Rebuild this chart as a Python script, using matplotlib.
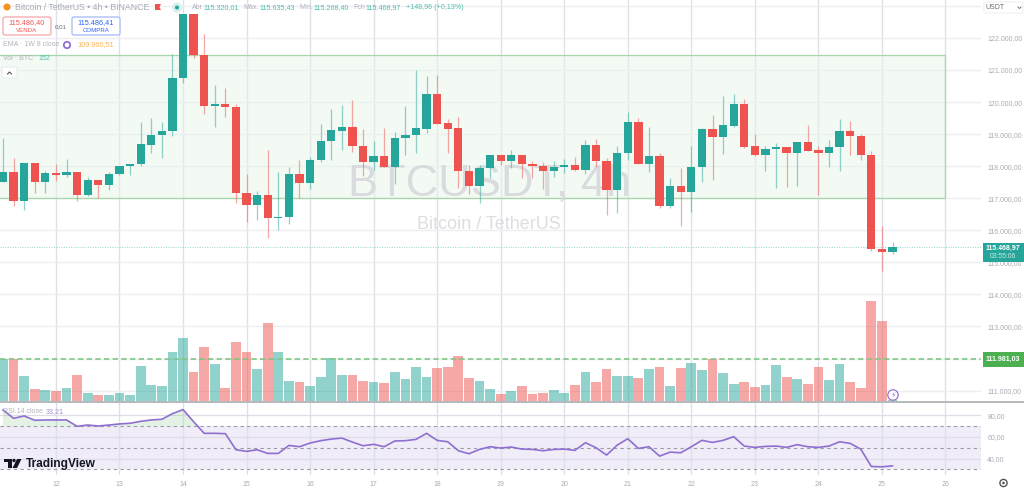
import matplotlib
matplotlib.use("Agg")
import matplotlib.pyplot as plt
from matplotlib.patches import Rectangle, FancyBboxPatch, Circle, Polygon
from matplotlib.transforms import Affine2D
import numpy as np

plt.rcParams['font.family'] = ['Liberation Sans', 'DejaVu Sans']

W, H = 1024, 490

# candle index: 0 = the 14th 00:00, one step = 4 hours
first_index = -17
opens = [117516,117817,116904,118107,117516,117786,117734,117827,117091,117557,117412,117754,118003,118066,118657,118968,
         119092,120762,122750,121467,119880,119932,119839,117153,116780,117112,116386,116417,117765,117474,118190,118771,
         119102,119237,118635,118138,118324,117982,118874,118957,119175,120243,119341,119185,117858,117370,117930,118335,
         118169,118335,118075,118013,117837,117961,118044,117868,118667,118158,117267,118397,119372,118055,118314,116758,
         117381,117194,117972,119164,118905,119268,119952,118615,118345,118542,118584,118397,118760,118501,118418,118594,
         119092,118947,118345,115421,115320]
closes = [117817,116904,118107,117516,117786,117734,117827,117101,117557,117412,117754,118003,118076,118688,118968,119092,
          120762,122750,121467,119880,119932,119839,117153,116780,117112,116386,116417,117765,117474,118190,118771,119113,
          119237,118625,118138,118324,117982,118884,118978,119185,120243,119330,119175,117858,117370,117930,118345,118169,
          118335,118055,118013,117837,117961,118044,117868,118667,118148,117267,118407,119372,118055,118314,116758,117381,
          117194,117982,119164,118905,119289,119952,118604,118345,118542,118584,118397,118760,118480,118407,118594,119092,
          118947,118345,115421,115317,115469]
highs = [118874,118252,118107,118107,117848,118055,118221,117827,117651,117557,117806,118003,118076,119372,119497,119393,
         121498,122750,122750,122120,120534,120440,119943,117765,117215,118491,117806,117972,118200,118283,119310,119787,
         119911,120077,119164,118781,119195,119071,119880,121000,120803,120844,119465,119527,118044,118024,118345,118335,
         118511,118335,118158,118138,118169,118231,118283,118822,118853,118252,118615,119683,119507,119216,118407,117640,
         117941,118615,119206,119589,120191,120264,120087,119009,118635,118718,118584,118760,119289,118615,118822,119465,
         119413,119009,118459,116147,115635]
lows = [117516,116749,116624,117163,117163,117526,117651,116925,117060,117008,117246,117713,117713,118014,118397,118263,
        118926,120585,121363,119631,119217,119538,116852,116272,116313,115753,116023,116209,117008,117288,118138,118200,
        118490,118428,117681,117868,117982,117453,118335,118397,119029,119330,118407,117318,117121,116841,117619,118034,
        117951,117640,117619,117287,117650,117775,117847,117744,117972,116478,116530,118200,118055,117806,116686,116686,
        116147,116561,117495,117567,118376,119227,118552,118324,117847,117329,117339,117391,118480,117111,117972,117858,
        118355,118179,115359,114726,115268]
volumes = [128,128,78,39,36,33,41,80,28,21,21,27,21,108,50,47,149,191,91,165,114,41,181,150,99,236,149,64,59,47,74,133,
           81,82,64,59,57,90,69,104,75,101,106,138,72,62,38,25,33,47,23,28,35,28,52,91,61,99,79,78,71,98,106,48,103,118,
           95,128,86,55,59,45,51,112,74,69,54,105,67,115,60,42,303,242,5]
rsi = [85.0,77.2,79.4,75.4,75.7,75.7,75.7,69.8,71.0,70.1,71.0,72.0,72.6,74.4,75.7,76.3,81.5,85.3,74.1,63.3,63.3,63.0,
       48.1,46.6,48.1,44.7,44.7,52.1,50.9,54.3,56.5,58.0,58.9,55.2,51.8,53.1,50.9,56.2,56.5,57.7,63.3,56.8,55.5,47.2,
       44.4,48.4,50.9,49.7,50.6,48.7,48.4,47.2,48.4,48.7,47.5,54.6,50.0,43.2,52.4,58.3,49.3,50.9,42.2,45.9,45.3,50.9,
       56.8,54.9,56.8,60.2,51.5,50.3,51.2,51.5,50.3,52.8,50.9,50.3,51.5,55.5,54.0,48.7,32.6,32.3,33.2]
day_labels = ['12','13','14','15','16','17','18','19','20','21','22','23','24','25','26']
price_ticks = [111000,112000,113000,114000,115000,116000,117000,118000,119000,120000,121000,122000,123000]
price_labels = ['111.000,00','','113.000,00','114.000,00','115.000,00','116.000,00','117.000,00','118.000,00',
                '119.000,00','120.000,00','121.000,00','122.000,00','']
rsi_ticks = [80,60,40]
rsi_labels = ['80,00','60,00','40,00']
zone_top, zone_bottom, zone_end = 121468, 117000, 72
level = 111981.03
last_price = 115468.97

UP, DOWN = '#26a69a', '#ef5350'
GRID_H, GRID_V = '#eceef2', '#dfe1e8'
LABEL = '#a9acb5'

opens, closes, highs, lows = map(np.array, (opens, closes, highs, lows))
k = np.arange(first_index, first_index + len(opens))
up = closes >= opens
colors = np.where(up, UP, DOWN)

fig = plt.figure(figsize=(W / 100, H / 100), dpi=100, facecolor='white')
px = Affine2D().scale(1, -1).translate(0, H)

def pane(top, bottom):
    return fig.add_axes([0, 1 - bottom / H, 981 / W, (bottom - top) / H])

xlim = ((0 - 183) / 10.59, (981 - 183) / 10.59)
day_pos = np.arange(-12, -12 + 6 * len(day_labels), 6)

# ---------- price pane ----------
ax = pane(0, 402)
ax.set_xlim(*xlim)
ax.set_ylim(121000 - (402 - 70) / 0.03206, 121000 + 70 / 0.03206)
ax.set_xticks(day_pos)
ax.grid(axis='y', color=GRID_H, lw=1)
ax.grid(axis='x', color=GRID_V, lw=1)
ax.set_axisbelow(True)
for s in ax.spines.values():
    s.set_visible(False)

ax.add_patch(Polygon([(xlim[0] - 1, zone_top), (zone_end, zone_top), (zone_end, zone_bottom), (xlim[0] - 1, zone_bottom)],
                     closed=True, fc='#e8f5e9', alpha=0.5, ec='none', zorder=1))
ax.plot([xlim[0], zone_end, zone_end, xlim[0]], [zone_top, zone_top, zone_bottom, zone_bottom],
        color='#a9d6ab', lw=0.95, zorder=1.2)

ax.text(489, 184, 'BTCUSDT, 4h', transform=px, fontsize=32.5, color='#d9dbde', ha='center', va='center', zorder=1.5)
ax.text(489, 224, 'Bitcoin / TetherUS', transform=px, fontsize=13, color='#dcdee1', ha='center', va='center', zorder=1.5)

vax = ax.twinx()
vax.set_ylim(0, 402 * 3)
vax.set_yticks([])
for s in vax.spines.values():
    s.set_visible(False)
vax.set_zorder(ax.get_zorder() + 1)
vax.patch.set_visible(False)
vax.bar(k, volumes, width=0.92, color=colors, alpha=0.5, lw=0, zorder=2)

cax = ax.twinx()
cax.set_ylim(ax.get_ylim())
cax.set_yticks([])
for s in cax.spines.values():
    s.set_visible(False)
cax.set_zorder(vax.get_zorder() + 1)
cax.patch.set_visible(False)
cax.vlines(k, lows, highs, colors=colors, lw=0.9, alpha=0.5, zorder=3)
cax.bar(k, np.maximum(np.abs(closes - opens), 30), bottom=np.minimum(opens, closes), width=0.78, color=colors, lw=0, zorder=4)
cax.plot([xlim[0], zone_end + 4.2], [level, level], color='#81c784', lw=1.2, dashes=(3.2, 2), zorder=3)
cax.plot(xlim, [last_price, last_price], color='#8fd3cc', lw=0.7, ls=(0, (1, 1.5)), zorder=3)

# price scale goes on last: twinx moves the ticks back to the left
ax.set_yticks(price_ticks)
ax.set_yticklabels(price_labels)
ax.yaxis.tick_right()
ax.tick_params(axis='y', length=0, pad=4.5, labelsize=5.0, labelcolor=LABEL)
ax.tick_params(axis='x', length=0, labelbottom=False)

# ---------- RSI pane ----------
rx = pane(403, 475)
rx.set_xlim(*xlim)
r_top = 80 + (415.3 - 403) / 1.08
r_bot = 80 - (475 - 415.3) / 1.08
rx.set_ylim(r_bot, r_top)
rx.set_xticks(day_pos)
rx.set_xticklabels(day_labels)
rx.set_yticks(rsi_ticks)
rx.set_yticklabels(rsi_labels)
rx.yaxis.tick_right()
rx.tick_params(axis='y', length=0, pad=4.5, labelsize=5.0, labelcolor=LABEL)
rx.tick_params(axis='x', length=0, pad=4.5, labelsize=5.0, labelcolor=LABEL)
rx.grid(axis='y', color='#dcdde6', lw=0.9)
rx.grid(axis='x', color=GRID_V, lw=1)
rx.set_axisbelow(True)
for s in rx.spines.values():
    s.set_visible(False)
rx.axhspan(30, 70, color='#7e57c2', alpha=0.11, lw=0, zorder=0.5)
for lev in (70, 50, 30):
    rx.axhline(lev, color='#9a9ca3', lw=0.8, ls=(0, (3, 3)), zorder=1)
rsi = np.array(rsi)
rx.fill_between(k, 70, rsi, where=rsi >= 70, interpolate=True, color='#a5d6a7', alpha=0.3, lw=0, zorder=1.2)
rx.plot(k, rsi, color='#8f6fd0', lw=1.2, zorder=3)

# ---------- overlays in image pixels ----------
o = fig.add_axes([0, 0, 1, 1], zorder=10)
o.set_xlim(0, W)
o.set_ylim(H, 0)
o.axis('off')
o.patch.set_visible(False)

o.add_patch(Rectangle((0, 401), W, 2, fc='#b8b9bd', ec='none'))
def t(x, y, s, c=LABEL, fs=5.0, ha='left', **kw):
    o.text(x, y, s, color=c, fontsize=fs, ha=ha, va='center', **kw)

MUTED = '#b0b3bc'
TV = '#4fbdaf'
o.add_patch(Circle((7, 7), 3.5, fc='#f7931a', ec='none'))
t(15, 7.5, 'Bitcoin / TetherUS • 4h • BINANCE', fs=6.3, c='#a9acb5')
o.add_patch(Polygon([(155, 4), (161, 4), (159.5, 7), (161, 10), (155, 10)], fc=DOWN, ec='none'))
o.add_patch(Circle((177, 7.5), 5, fc='#d7efeb', ec='none'))
o.add_patch(Circle((177, 7.5), 2, fc=UP, ec='none'))
t(192, 7.5, 'Abr', c=MUTED)
t(204, 7.5, '115.320,01', c=TV, fs=5.1)
t(243, 7.5, 'Máx.', c=MUTED)
t(259.5, 7.5, '115.635,43', c=TV, fs=5.1)
t(299, 7.5, 'Mín.', c=MUTED)
t(313, 7.5, '115.268,40', c=TV, fs=5.1)
t(353, 7.5, 'Fch', c=MUTED)
t(365.5, 7.5, '115.468,97', c=TV, fs=5.1)
t(405.5, 7.5, '+148,96 (+0,13%)', c=TV, fs=5.1)

o.add_patch(FancyBboxPatch((3, 17), 48, 18, boxstyle='round,pad=0,rounding_size=2', fc='white', ec='#f7a6a6', lw=0.9))
t(27, 22.5, '115.486,40', c=DOWN, fs=5.2, ha='center')
t(27, 30.5, 'VENDA', c=DOWN, fs=4.4, ha='center')
t(61, 26.5, '0,01', c='#666a73', fs=4.4, ha='center')
o.add_patch(FancyBboxPatch((72, 17), 48, 18, boxstyle='round,pad=0,rounding_size=2', fc='white', ec='#a6b8fa', lw=0.9))
t(96, 22.5, '115.486,41', c='#2962ff', fs=5.2, ha='center')
t(96, 30.5, 'COMPRA', c='#2962ff', fs=4.4, ha='center')
t(3, 45, 'EMA · 1W 8 close', c=MUTED)
o.add_patch(Circle((67, 45), 3.2, fc='none', ec='#8f6fd0', lw=1.3))
t(77, 45, '109.960,51', c='#fdb557', fs=5.2)
t(3, 58.5, 'Vol · BTC', c=MUTED)
t(38, 58.5, '152', c=TV)
o.add_patch(FancyBboxPatch((2, 67), 15, 11, boxstyle='round,pad=0,rounding_size=1.5', fc='white', ec='#e6e7ea', lw=0.6))
o.plot([7.5, 9.5, 11.5], [74, 72, 74], color='#555', lw=0.8)

t(3, 411.5, 'RSI 14 close', c=MUTED)
t(46, 411.5, '33,21', c='#a98fdd', fs=5.2)

# TradingView mark
o.add_patch(Rectangle((4, 459), 7.5, 3, fc='#131722', ec='none'))
o.add_patch(Rectangle((8, 459), 3.5, 9, fc='#131722', ec='none'))
o.add_patch(Circle((14, 460.5), 1.7, fc='#131722', ec='none'))
o.add_patch(Polygon([(17, 459), (21.5, 459), (17, 468), (12.5, 468)], fc='#131722', ec='none'))
t(25.5, 463.5, 'TradingView', c='#131722', fs=8.6, fontweight='bold')

# right-hand tags
o.add_patch(FancyBboxPatch((984, 2), 39, 11, boxstyle='round,pad=0,rounding_size=2', fc='white', ec='#f5eef0', lw=0.8))
t(986, 7.5, 'USDT', c='#6a6d78', fs=5.0)
o.plot([1018, 1019.5, 1021], [7, 8.5, 7], color='#777', lw=0.7)
o.add_patch(Rectangle((982.5, 243), 41, 18.5, fc=UP, ec='none'))
t(1003, 248, '115.468,97', c='white', fs=5.0, ha='center', fontweight='bold')
t(1003, 256, '03:55:06', c='#c9ebe7', fs=4.9, ha='center')
o.add_patch(Rectangle((982.5, 352), 41, 15, fc='#4caf50', ec='none'))
t(1003, 359.5, '111.981,03', c='white', fs=5.0, ha='center', fontweight='bold')

# small icons
o.add_patch(Circle((893, 395), 5.2, fc='white', ec='#9575cd', lw=0.9))
o.text(893, 395, '⚡', fontsize=5.5, color='#9575cd', ha='center', va='center', family='DejaVu Sans')
o.add_patch(Circle((1003.5, 483), 3.6, fc='none', ec='#555', lw=1))
o.add_patch(Circle((1003.5, 483), 1.3, fc='#555', ec='none'))

fig.savefig('out.png', dpi=100)
